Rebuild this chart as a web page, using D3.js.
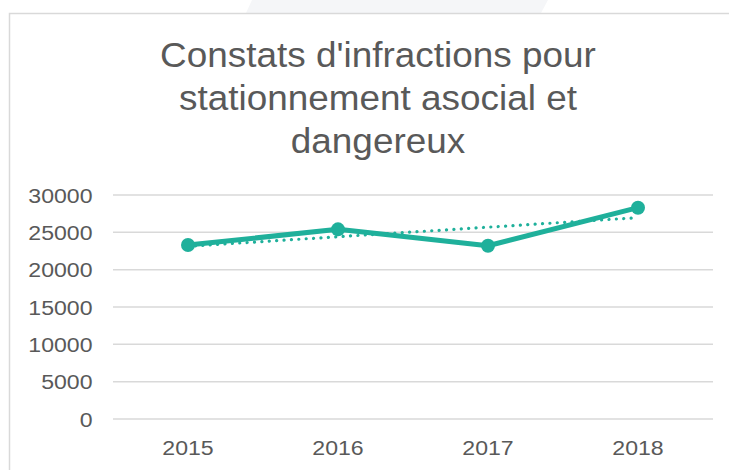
<!DOCTYPE html>
<html>
<head>
<meta charset="utf-8">
<script src="https://cdn.jsdelivr.net/npm/d3@7"></script>
<style>
  html, body { margin: 0; padding: 0; background: #ffffff; }
  svg { display: block; }
</style>
</head>
<body>
<div id="chart"></div>
<script>
// ---- Data ----
const titleLines = ["Constats d'infractions pour", "stationnement asocial et", "dangereux"];
const categories = ["2015", "2016", "2017", "2018"];
const values = [23300, 25400, 23200, 28300];
const yTicks = [0, 5000, 10000, 15000, 20000, 25000, 30000];

// ---- Layout ----
const W = 729, H = 470;
const plot = { left: 113, right: 713, top: 195, bottom: 419 };
const textColor = "#595959";
const gridColor = "#d9d9d9";
const lineColor = "#1fb09b";

const svg = d3.select("#chart").append("svg")
  .attr("width", W).attr("height", H);

svg.append("rect").attr("width", W).attr("height", H).attr("fill", "#ffffff");

// faint background decoration at the top
svg.append("path")
  .attr("d", "M252,0 L548,0 L541,13 L246,13 Z")
  .attr("fill", "#f5f6f8");

// chart frame (left and top borders visible)
svg.append("path")
  .attr("d", "M9.5,470 L9.5,13.5 L729,13.5")
  .attr("fill", "none")
  .attr("stroke", gridColor)
  .attr("stroke-width", 1.5);

// ---- Scales ----
const x = d3.scaleBand().domain(categories).range([plot.left, plot.right]);
const y = d3.scaleLinear().domain([0, 30000]).range([plot.bottom, plot.top]);

// ---- Title ----
const title = svg.append("g").attr("fill", textColor)
  .style("font-family", "'Liberation Sans', Arial, sans-serif")
  .style("font-size", "34.5px");
title.selectAll("text").data(titleLines).join("text")
  .attr("text-anchor", "middle")
  .attr("transform", (d, i) => `translate(378,${66.5 + i * 43}) scale(1.07,1)`)
  .text(d => d);

// ---- Gridlines ----
svg.append("g").selectAll("line").data(yTicks).join("line")
  .attr("x1", plot.left).attr("x2", plot.right)
  .attr("y1", d => y(d)).attr("y2", d => y(d))
  .attr("stroke", gridColor).attr("stroke-width", 1.5);

// ---- Y axis labels ----
svg.append("g").attr("fill", textColor)
  .style("font-family", "'Liberation Sans', Arial, sans-serif")
  .style("font-size", "21px")
  .selectAll("text").data(yTicks).join("text")
  .attr("text-anchor", "end")
  .attr("transform", d => `translate(92.5,${y(d) + 7.5}) scale(1.1,1)`)
  .text(d => d);

// ---- X axis labels ----
svg.append("g").attr("fill", textColor)
  .style("font-family", "'Liberation Sans', Arial, sans-serif")
  .style("font-size", "21px")
  .selectAll("text").data(categories).join("text")
  .attr("text-anchor", "middle")
  .attr("transform", d => `translate(${x(d) + x.bandwidth() / 2},455) scale(1.1,1)`)
  .text(d => d);

// ---- Linear trend line (least squares on the series) ----
const n = values.length;
const idx = values.map((v, i) => i + 1);
const mx = d3.mean(idx), my = d3.mean(values);
const slope = d3.sum(idx.map((t, i) => (t - mx) * (values[i] - my))) / d3.sum(idx.map(t => (t - mx) ** 2));
const intercept = my - slope * mx;
const trend = categories.map((c, i) => ({ c, v: intercept + slope * (i + 1) }));
const cx = c => x(c) + x.bandwidth() / 2;

svg.append("path")
  .datum([trend[0], trend[n - 1]])
  .attr("d", d3.line().x(d => cx(d.c)).y(d => y(d.v)))
  .attr("fill", "none")
  .attr("stroke", lineColor)
  .attr("stroke-width", 3.2)
  .attr("stroke-linecap", "round")
  .attr("stroke-dasharray", "0.1 7.3");

// ---- Main series ----
const series = categories.map((c, i) => ({ c, v: values[i] }));
svg.append("path")
  .datum(series)
  .attr("d", d3.line().x(d => cx(d.c)).y(d => y(d.v)))
  .attr("fill", "none")
  .attr("stroke", lineColor)
  .attr("stroke-width", 5)
  .attr("stroke-linejoin", "round");

svg.append("g").selectAll("circle").data(series).join("circle")
  .attr("cx", d => cx(d.c)).attr("cy", d => y(d.v))
  .attr("r", 7)
  .attr("fill", lineColor);
</script>
</body>
</html>
